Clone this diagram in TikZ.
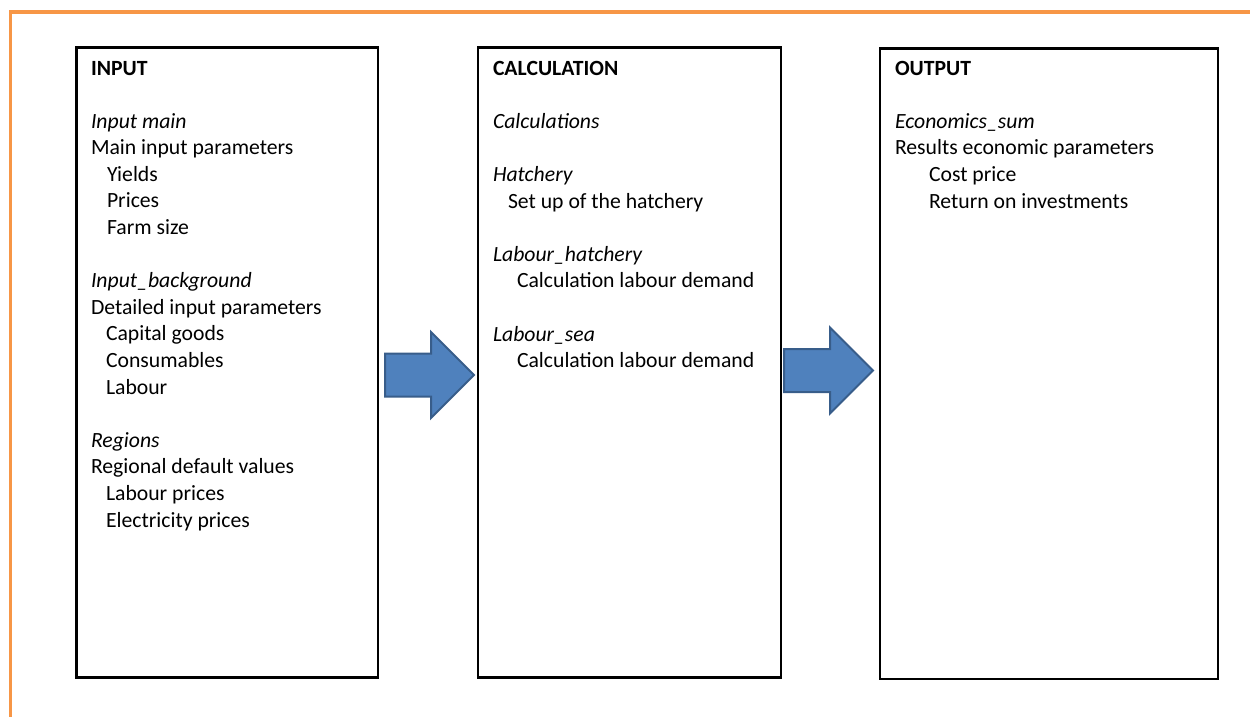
\documentclass[tikz,border=0pt]{standalone}
\usepackage{fontspec}
\setmainfont{Carlito}
\usetikzlibrary{shapes.arrows}
\definecolor{frameorange}{HTML}{F79646}
\definecolor{arrowfill}{HTML}{4F81BD}
\definecolor{arrowline}{HTML}{385D8A}
\tikzset{
  panel/.style={draw=black, line width=2.7pt, fill=none, inner sep=0pt, outer sep=0pt, anchor=north west},
  txt/.style={anchor=base west, inner sep=0pt, outer sep=0pt, font=\fontsize{21.7}{26.6}\selectfont},
  hdr/.style={txt, font=\fontsize{21.7}{26.6}\selectfont\bfseries},
  sub/.style={txt, font=\fontsize{21.7}{26.6}\selectfont\itshape},
  bigarrow/.style={single arrow, draw=arrowline, fill=arrowfill, line width=2pt,
    single arrow head extend=21.5pt, single arrow tip angle=90,
    inner xsep=0pt, inner ysep=20.5pt, minimum height=89pt, outer sep=0pt, anchor=tail}
}
\begin{document}
\begin{tikzpicture}[x=1pt, y=-1pt]
\useasboundingbox (0,0) rectangle (1250,716);
\fill[white] (0,0) rectangle (1250,716);
% orange frame
\draw[frameorange, line width=3.5pt] (1252,11.8) -- (10.3,11.8) -- (10.3,718);
% panels
\node[panel, minimum width=301.3pt, minimum height=630pt] (inbox) at (76.7,47.5) {};
\node[panel, minimum width=303pt, minimum height=630pt] (calcbox) at (478,47.5) {};
\node[panel, minimum width=338pt, minimum height=630.5pt] (outbox) at (880,48.5) {};
% input texts
\node[hdr] (i0) at (91,75) {INPUT};
\node[sub] (i1) at (91,128) {Input main};
\node[txt] (i2) at (91,154.6) {Main input parameters};
\node[txt] (i3) at (107,181.2) {Yields};
\node[txt] (i4) at (107,207.8) {Prices};
\node[txt] (i5) at (107,234.4) {Farm size};
\node[sub] (i6) at (91,287.6) {Input\_background};
\node[txt] (i7) at (91,314.2) {Detailed input parameters};
\node[txt] (i8) at (106,340.8) {Capital goods};
\node[txt] (i9) at (106,367.4) {Consumables};
\node[txt] (i10) at (106,394) {Labour};
\node[sub] (i11) at (91,447.2) {Regions};
\node[txt] (i12) at (91,473.8) {Regional default values};
\node[txt] (i13) at (106,500.4) {Labour prices};
\node[txt] (i14) at (106,527) {Electricity prices};
% calculation texts
\node[hdr] (c0) at (493,75) {CALCULATION};
\node[sub] (c1) at (493,128.2) {Calculations};
\node[sub] (c2) at (493,181.4) {Hatchery};
\node[txt] (c3) at (508,208) {Set up of the hatchery};
\node[sub] (c4) at (493,261.2) {Labour\_hatchery};
\node[txt] (c5) at (517,287.8) {Calculation labour demand};
\node[sub] (c6) at (493,341) {Labour\_sea};
\node[txt] (c7) at (517,367.6) {Calculation labour demand};
% output texts
\node[hdr] (o0) at (895,75) {OUTPUT};
\node[sub] (o1) at (895,128.2) {Economics\_sum};
\node[txt] (o2) at (895,154.8) {Results economic parameters};
\node[txt] (o3) at (929,181.4) {Cost price};
\node[txt] (o4) at (929,208) {Return on investments};
% block arrows
\node[bigarrow] (arr1) at (385,375) {};
\node[bigarrow] (arr2) at (784,370.5) {};
\end{tikzpicture}
\end{document}
